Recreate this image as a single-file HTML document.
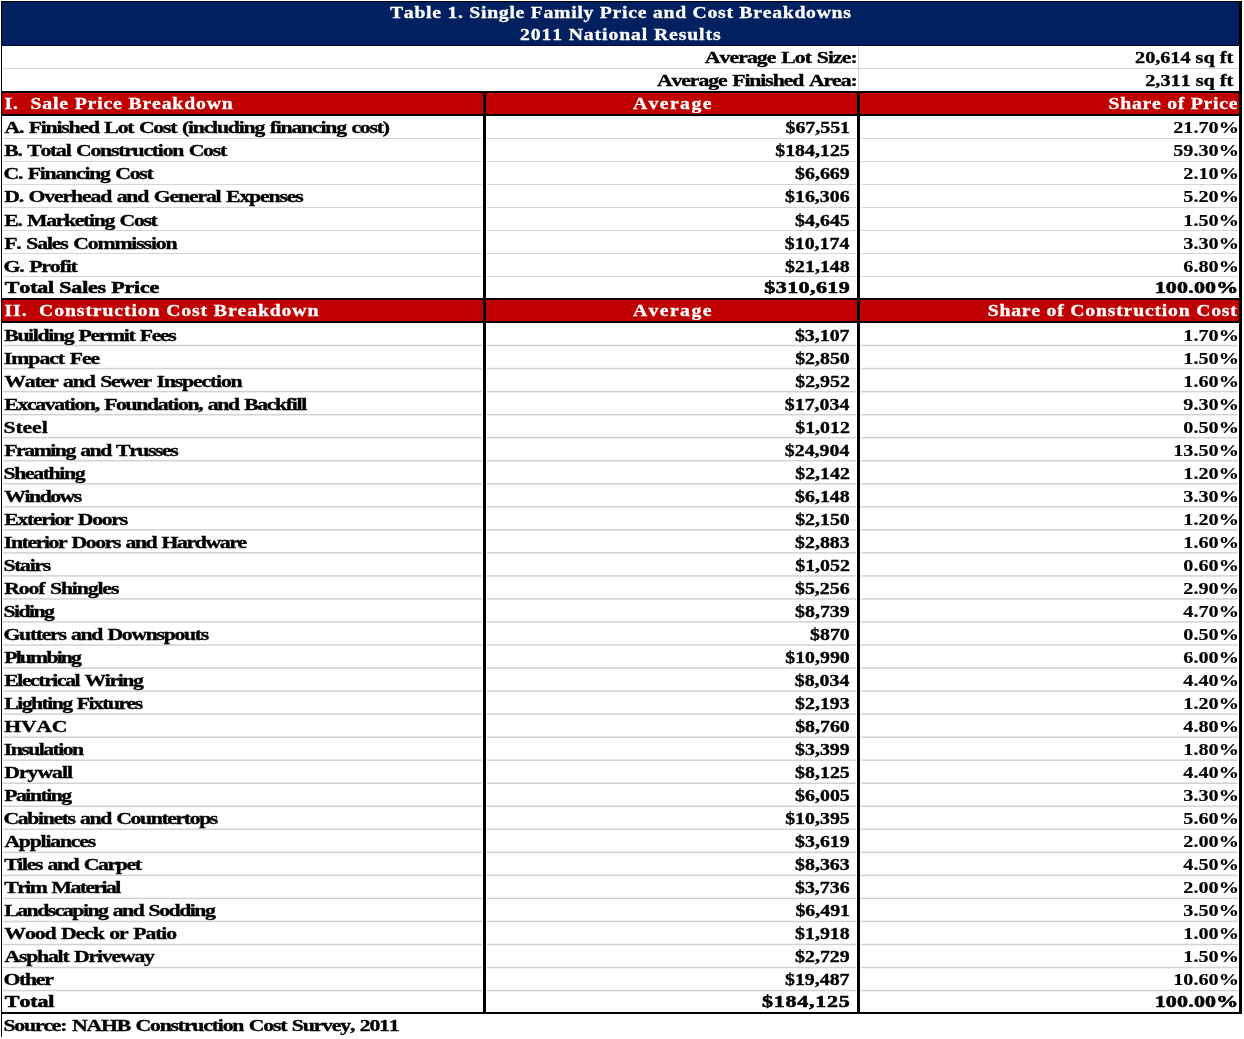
<!DOCTYPE html>
<html><head><meta charset="utf-8"><title>Table 1. Single Family Price and Cost Breakdowns</title>
<style>
html,body{margin:0;padding:0;background:#fff;}
body{width:1244px;height:1039px;overflow:hidden;}
svg{display:block;will-change:transform;}
text{white-space:pre;font-kerning:none;font-family:"Liberation Serif","Times New Roman",serif;font-weight:bold;font-size:16.7px;}
.b{fill:#000;stroke:#000;stroke-width:0.35px;}
.h{fill:#000;stroke:#000;stroke-width:0.55px;}
.p{fill:#000;stroke:#000;stroke-width:0.15px;}
.w{fill:#fff;stroke:#fff;stroke-width:0.3px;}
</style></head><body>
<svg width="1244" height="1039" viewBox="0 0 1244 1039">
<rect x="2" y="2" width="1237" height="43" fill="#002060"/>
<rect x="1" y="45" width="1240" height="1" fill="#000c3a"/>
<rect x="1" y="1" width="1241" height="1" fill="#000"/>
<rect x="2" y="68" width="1237" height="1" fill="#D4D4D9"/>
<rect x="858" y="46" width="1" height="45" fill="#D4D4D9"/>
<rect x="1" y="91" width="1241" height="2" fill="#000"/>
<rect x="2" y="93" width="1237" height="21" fill="#C00000"/>
<rect x="1" y="114" width="1241" height="2" fill="#000"/>
<rect x="1" y="298" width="1241" height="2" fill="#000"/>
<rect x="2" y="300" width="1237" height="21" fill="#C00000"/>
<rect x="1" y="321" width="1241" height="2" fill="#000"/>
<rect x="3" y="138" width="479" height="1" fill="#D4D4D9"/>
<rect x="487" y="138" width="369" height="1" fill="#D4D4D9"/>
<rect x="861" y="138" width="377" height="1" fill="#D4D4D9"/>
<rect x="3" y="161" width="479" height="1" fill="#D4D4D9"/>
<rect x="487" y="161" width="369" height="1" fill="#D4D4D9"/>
<rect x="861" y="161" width="377" height="1" fill="#D4D4D9"/>
<rect x="3" y="184" width="479" height="1" fill="#D4D4D9"/>
<rect x="487" y="184" width="369" height="1" fill="#D4D4D9"/>
<rect x="861" y="184" width="377" height="1" fill="#D4D4D9"/>
<rect x="3" y="207" width="479" height="1" fill="#D4D4D9"/>
<rect x="487" y="207" width="369" height="1" fill="#D4D4D9"/>
<rect x="861" y="207" width="377" height="1" fill="#D4D4D9"/>
<rect x="3" y="230" width="479" height="1" fill="#D4D4D9"/>
<rect x="487" y="230" width="369" height="1" fill="#D4D4D9"/>
<rect x="861" y="230" width="377" height="1" fill="#D4D4D9"/>
<rect x="3" y="253" width="479" height="1" fill="#D4D4D9"/>
<rect x="487" y="253" width="369" height="1" fill="#D4D4D9"/>
<rect x="861" y="253" width="377" height="1" fill="#D4D4D9"/>
<rect x="3" y="276" width="479" height="1" fill="#D4D4D9"/>
<rect x="487" y="276" width="369" height="1" fill="#D4D4D9"/>
<rect x="861" y="276" width="377" height="1" fill="#D4D4D9"/>
<rect x="3" y="344.8" width="479" height="1.5" fill="#D0D2D9"/>
<rect x="487" y="344.8" width="369" height="1.5" fill="#D0D2D9"/>
<rect x="861" y="344.8" width="377" height="1.5" fill="#D0D2D9"/>
<rect x="3" y="367.84" width="479" height="1.5" fill="#D0D2D9"/>
<rect x="487" y="367.84" width="369" height="1.5" fill="#D0D2D9"/>
<rect x="861" y="367.84" width="377" height="1.5" fill="#D0D2D9"/>
<rect x="3" y="390.87" width="479" height="1.5" fill="#D0D2D9"/>
<rect x="487" y="390.87" width="369" height="1.5" fill="#D0D2D9"/>
<rect x="861" y="390.87" width="377" height="1.5" fill="#D0D2D9"/>
<rect x="3" y="413.91" width="479" height="1.5" fill="#D0D2D9"/>
<rect x="487" y="413.91" width="369" height="1.5" fill="#D0D2D9"/>
<rect x="861" y="413.91" width="377" height="1.5" fill="#D0D2D9"/>
<rect x="3" y="436.94" width="479" height="1.5" fill="#D0D2D9"/>
<rect x="487" y="436.94" width="369" height="1.5" fill="#D0D2D9"/>
<rect x="861" y="436.94" width="377" height="1.5" fill="#D0D2D9"/>
<rect x="3" y="459.98" width="479" height="1.5" fill="#D0D2D9"/>
<rect x="487" y="459.98" width="369" height="1.5" fill="#D0D2D9"/>
<rect x="861" y="459.98" width="377" height="1.5" fill="#D0D2D9"/>
<rect x="3" y="483.02" width="479" height="1.5" fill="#D0D2D9"/>
<rect x="487" y="483.02" width="369" height="1.5" fill="#D0D2D9"/>
<rect x="861" y="483.02" width="377" height="1.5" fill="#D0D2D9"/>
<rect x="3" y="506.05" width="479" height="1.5" fill="#D0D2D9"/>
<rect x="487" y="506.05" width="369" height="1.5" fill="#D0D2D9"/>
<rect x="861" y="506.05" width="377" height="1.5" fill="#D0D2D9"/>
<rect x="3" y="529.09" width="479" height="1.5" fill="#D0D2D9"/>
<rect x="487" y="529.09" width="369" height="1.5" fill="#D0D2D9"/>
<rect x="861" y="529.09" width="377" height="1.5" fill="#D0D2D9"/>
<rect x="3" y="552.12" width="479" height="1.5" fill="#D0D2D9"/>
<rect x="487" y="552.12" width="369" height="1.5" fill="#D0D2D9"/>
<rect x="861" y="552.12" width="377" height="1.5" fill="#D0D2D9"/>
<rect x="3" y="575.16" width="479" height="1.5" fill="#D0D2D9"/>
<rect x="487" y="575.16" width="369" height="1.5" fill="#D0D2D9"/>
<rect x="861" y="575.16" width="377" height="1.5" fill="#D0D2D9"/>
<rect x="3" y="598.2" width="479" height="1.5" fill="#D0D2D9"/>
<rect x="487" y="598.2" width="369" height="1.5" fill="#D0D2D9"/>
<rect x="861" y="598.2" width="377" height="1.5" fill="#D0D2D9"/>
<rect x="3" y="621.23" width="479" height="1.5" fill="#D0D2D9"/>
<rect x="487" y="621.23" width="369" height="1.5" fill="#D0D2D9"/>
<rect x="861" y="621.23" width="377" height="1.5" fill="#D0D2D9"/>
<rect x="3" y="644.27" width="479" height="1.5" fill="#D0D2D9"/>
<rect x="487" y="644.27" width="369" height="1.5" fill="#D0D2D9"/>
<rect x="861" y="644.27" width="377" height="1.5" fill="#D0D2D9"/>
<rect x="3" y="667.3" width="479" height="1.5" fill="#D0D2D9"/>
<rect x="487" y="667.3" width="369" height="1.5" fill="#D0D2D9"/>
<rect x="861" y="667.3" width="377" height="1.5" fill="#D0D2D9"/>
<rect x="3" y="690.34" width="479" height="1.5" fill="#D0D2D9"/>
<rect x="487" y="690.34" width="369" height="1.5" fill="#D0D2D9"/>
<rect x="861" y="690.34" width="377" height="1.5" fill="#D0D2D9"/>
<rect x="3" y="713.38" width="479" height="1.5" fill="#D0D2D9"/>
<rect x="487" y="713.38" width="369" height="1.5" fill="#D0D2D9"/>
<rect x="861" y="713.38" width="377" height="1.5" fill="#D0D2D9"/>
<rect x="3" y="736.41" width="479" height="1.5" fill="#D0D2D9"/>
<rect x="487" y="736.41" width="369" height="1.5" fill="#D0D2D9"/>
<rect x="861" y="736.41" width="377" height="1.5" fill="#D0D2D9"/>
<rect x="3" y="759.45" width="479" height="1.5" fill="#D0D2D9"/>
<rect x="487" y="759.45" width="369" height="1.5" fill="#D0D2D9"/>
<rect x="861" y="759.45" width="377" height="1.5" fill="#D0D2D9"/>
<rect x="3" y="782.48" width="479" height="1.5" fill="#D0D2D9"/>
<rect x="487" y="782.48" width="369" height="1.5" fill="#D0D2D9"/>
<rect x="861" y="782.48" width="377" height="1.5" fill="#D0D2D9"/>
<rect x="3" y="805.52" width="479" height="1.5" fill="#D0D2D9"/>
<rect x="487" y="805.52" width="369" height="1.5" fill="#D0D2D9"/>
<rect x="861" y="805.52" width="377" height="1.5" fill="#D0D2D9"/>
<rect x="3" y="828.56" width="479" height="1.5" fill="#D0D2D9"/>
<rect x="487" y="828.56" width="369" height="1.5" fill="#D0D2D9"/>
<rect x="861" y="828.56" width="377" height="1.5" fill="#D0D2D9"/>
<rect x="3" y="851.59" width="479" height="1.5" fill="#D0D2D9"/>
<rect x="487" y="851.59" width="369" height="1.5" fill="#D0D2D9"/>
<rect x="861" y="851.59" width="377" height="1.5" fill="#D0D2D9"/>
<rect x="3" y="874.63" width="479" height="1.5" fill="#D0D2D9"/>
<rect x="487" y="874.63" width="369" height="1.5" fill="#D0D2D9"/>
<rect x="861" y="874.63" width="377" height="1.5" fill="#D0D2D9"/>
<rect x="3" y="897.66" width="479" height="1.5" fill="#D0D2D9"/>
<rect x="487" y="897.66" width="369" height="1.5" fill="#D0D2D9"/>
<rect x="861" y="897.66" width="377" height="1.5" fill="#D0D2D9"/>
<rect x="3" y="920.7" width="479" height="1.5" fill="#D0D2D9"/>
<rect x="487" y="920.7" width="369" height="1.5" fill="#D0D2D9"/>
<rect x="861" y="920.7" width="377" height="1.5" fill="#D0D2D9"/>
<rect x="3" y="943.74" width="479" height="1.5" fill="#D0D2D9"/>
<rect x="487" y="943.74" width="369" height="1.5" fill="#D0D2D9"/>
<rect x="861" y="943.74" width="377" height="1.5" fill="#D0D2D9"/>
<rect x="3" y="966.77" width="479" height="1.5" fill="#D0D2D9"/>
<rect x="487" y="966.77" width="369" height="1.5" fill="#D0D2D9"/>
<rect x="861" y="966.77" width="377" height="1.5" fill="#D0D2D9"/>
<rect x="3" y="989.81" width="479" height="1.5" fill="#D0D2D9"/>
<rect x="487" y="989.81" width="369" height="1.5" fill="#D0D2D9"/>
<rect x="861" y="989.81" width="377" height="1.5" fill="#D0D2D9"/>
<rect x="483" y="91" width="3" height="923" fill="#000"/>
<rect x="857" y="91" width="3" height="923" fill="#000"/>
<rect x="1" y="1012" width="1241" height="2" fill="#000"/>
<rect x="1" y="1" width="1" height="1036" fill="#000"/>
<rect x="1239" y="1" width="3" height="1013" fill="#000"/>
<text class="w" transform="translate(389.94 17.9) scale(1.18 1)" letter-spacing="0.62">Table 1. Single Family Price and Cost Breakdowns</text>
<text class="w" transform="translate(519.92 39.6) scale(1.18 1)" letter-spacing="0.76">2011 National Results</text>
<text class="b" transform="translate(704.79 63) scale(1.3 1)" letter-spacing="-0.71" word-spacing="1">Average Lot Size:</text>
<text class="b" transform="translate(656.89 85.9) scale(1.3 1)" letter-spacing="-0.82" word-spacing="1">Average Finished Area:</text>
<text class="b" transform="translate(1135.05 62.9) scale(1.21 1)">20,614 sq ft</text>
<text class="b" transform="translate(1145.25 85.5) scale(1.21 1)">2,311 sq ft</text>
<text class="w" transform="translate(4.54 108.8) scale(1.18 1)" letter-spacing="0.73">I.  Sale Price Breakdown</text>
<text class="w" transform="translate(632.91 108.8) scale(1.18 1)" letter-spacing="1.2">Average</text>
<text class="w" transform="translate(1108.55 108.8) scale(1.18 1)" letter-spacing="0.63">Share of Price</text>
<text class="w" transform="translate(4.54 315.7) scale(1.18 1)" letter-spacing="0.76">II.  Construction Cost Breakdown</text>
<text class="w" transform="translate(632.91 315.7) scale(1.18 1)" letter-spacing="1.2">Average</text>
<text class="w" transform="translate(987.65 315.7) scale(1.18 1)" letter-spacing="0.68">Share of Construction Cost</text>
<text class="b" transform="translate(4.39 133) scale(1.3 1)" letter-spacing="-0.91" word-spacing="1">A. Finished Lot Cost (including financing cost)</text>
<text class="b" transform="translate(785.49 133) scale(1.19 1)">$67,551</text>
<text class="p" transform="translate(1173.27 133) scale(1.21 1)">21.70%</text>
<text class="b" transform="translate(4.24 155.9) scale(1.3 1)" letter-spacing="-0.94" word-spacing="1">B. Total Construction Cost</text>
<text class="b" transform="translate(775.26 155.9) scale(1.19 1)">$184,125</text>
<text class="p" transform="translate(1173.27 155.9) scale(1.21 1)">59.30%</text>
<text class="b" transform="translate(3.54 179.2) scale(1.3 1)" letter-spacing="-0.93" word-spacing="1">C. Financing Cost</text>
<text class="b" transform="translate(795.11 179.2) scale(1.19 1)">$6,669</text>
<text class="p" transform="translate(1183.37 179.2) scale(1.21 1)">2.10%</text>
<text class="b" transform="translate(4.22 202.4) scale(1.3 1)" letter-spacing="-0.88" word-spacing="1">D. Overhead and General Expenses</text>
<text class="b" transform="translate(785.04 202.4) scale(1.19 1)">$16,306</text>
<text class="p" transform="translate(1183.37 202.4) scale(1.21 1)">5.20%</text>
<text class="b" transform="translate(4.23 225.6) scale(1.3 1)" letter-spacing="-1" word-spacing="1">E. Marketing Cost</text>
<text class="b" transform="translate(795.12 225.6) scale(1.19 1)">$4,645</text>
<text class="p" transform="translate(1183.37 225.6) scale(1.21 1)">1.50%</text>
<text class="b" transform="translate(4.23 248.7) scale(1.3 1)" letter-spacing="-0.87" word-spacing="1">F. Sales Commission</text>
<text class="b" transform="translate(784.83 248.7) scale(1.19 1)">$10,174</text>
<text class="p" transform="translate(1183.37 248.7) scale(1.21 1)">3.30%</text>
<text class="b" transform="translate(3.54 271.6) scale(1.3 1)" letter-spacing="-0.86" word-spacing="1">G. Profit</text>
<text class="b" transform="translate(785.12 271.6) scale(1.19 1)">$21,148</text>
<text class="p" transform="translate(1183.37 271.6) scale(1.21 1)">6.80%</text>
<text class="h" transform="translate(4.86 292.8) scale(1.32 1)" letter-spacing="-0.16">Total Sales Price</text>
<text class="h" transform="translate(764.31 292.8) scale(1.32 1)" letter-spacing="0.31">$310,619</text>
<text class="h" transform="translate(1154.63 292.8) scale(1.32 1)" letter-spacing="0.13">100.00%</text>
<text class="b" transform="translate(4.24 340.8) scale(1.3 1)" letter-spacing="-1.03" word-spacing="1">Building Permit Fees</text>
<text class="b" transform="translate(794.88 340.8) scale(1.19 1)">$3,107</text>
<text class="p" transform="translate(1183.37 340.8) scale(1.21 1)">1.70%</text>
<text class="b" transform="translate(3.87 363.79) scale(1.3 1)" letter-spacing="-0.79" word-spacing="1">Impact Fee</text>
<text class="b" transform="translate(795.15 363.79) scale(1.19 1)">$2,850</text>
<text class="p" transform="translate(1183.37 363.79) scale(1.21 1)">1.50%</text>
<text class="b" transform="translate(4.29 386.78) scale(1.3 1)" letter-spacing="-0.89" word-spacing="1">Water and Sewer Inspection</text>
<text class="b" transform="translate(795.24 386.78) scale(1.19 1)">$2,952</text>
<text class="p" transform="translate(1183.37 386.78) scale(1.21 1)">1.60%</text>
<text class="b" transform="translate(4.23 409.77) scale(1.3 1)" letter-spacing="-1.02" word-spacing="1">Excavation, Foundation, and Backfill</text>
<text class="b" transform="translate(784.83 409.77) scale(1.19 1)">$17,034</text>
<text class="p" transform="translate(1183.37 409.77) scale(1.21 1)">9.30%</text>
<text class="b" transform="translate(3.44 432.76) scale(1.3 1)" letter-spacing="-0.07">Steel</text>
<text class="b" transform="translate(795.24 432.76) scale(1.19 1)">$1,012</text>
<text class="p" transform="translate(1183.37 432.76) scale(1.21 1)">0.50%</text>
<text class="b" transform="translate(4.23 455.75) scale(1.3 1)" letter-spacing="-1.11" word-spacing="1">Framing and Trusses</text>
<text class="b" transform="translate(784.83 455.75) scale(1.19 1)">$24,904</text>
<text class="p" transform="translate(1173.27 455.75) scale(1.21 1)">13.50%</text>
<text class="b" transform="translate(3.44 478.74) scale(1.3 1)" letter-spacing="-1.03">Sheathing</text>
<text class="b" transform="translate(795.24 478.74) scale(1.19 1)">$2,142</text>
<text class="p" transform="translate(1183.37 478.74) scale(1.21 1)">1.20%</text>
<text class="b" transform="translate(4.29 501.73) scale(1.3 1)" letter-spacing="-1.14">Windows</text>
<text class="b" transform="translate(795.05 501.73) scale(1.19 1)">$6,148</text>
<text class="p" transform="translate(1183.37 501.73) scale(1.21 1)">3.30%</text>
<text class="b" transform="translate(4.23 524.72) scale(1.3 1)" letter-spacing="-0.98" word-spacing="1">Exterior Doors</text>
<text class="b" transform="translate(795.15 524.72) scale(1.19 1)">$2,150</text>
<text class="p" transform="translate(1183.37 524.72) scale(1.21 1)">1.20%</text>
<text class="b" transform="translate(3.87 547.71) scale(1.3 1)" letter-spacing="-1.07" word-spacing="1">Interior Doors and Hardware</text>
<text class="b" transform="translate(795.07 547.71) scale(1.19 1)">$2,883</text>
<text class="p" transform="translate(1183.37 547.71) scale(1.21 1)">1.60%</text>
<text class="b" transform="translate(3.44 570.7) scale(1.3 1)" letter-spacing="-1.01">Stairs</text>
<text class="b" transform="translate(795.24 570.7) scale(1.19 1)">$1,052</text>
<text class="p" transform="translate(1183.37 570.7) scale(1.21 1)">0.60%</text>
<text class="b" transform="translate(4.23 593.69) scale(1.3 1)" letter-spacing="-0.86" word-spacing="1">Roof Shingles</text>
<text class="b" transform="translate(794.97 593.69) scale(1.19 1)">$5,256</text>
<text class="p" transform="translate(1183.37 593.69) scale(1.21 1)">2.90%</text>
<text class="b" transform="translate(3.44 616.68) scale(1.3 1)" letter-spacing="-1.17">Siding</text>
<text class="b" transform="translate(795.11 616.68) scale(1.19 1)">$8,739</text>
<text class="p" transform="translate(1183.37 616.68) scale(1.21 1)">4.70%</text>
<text class="b" transform="translate(3.54 639.67) scale(1.3 1)" letter-spacing="-1" word-spacing="1">Gutters and Downspouts</text>
<text class="b" transform="translate(810.04 639.67) scale(1.19 1)">$870</text>
<text class="p" transform="translate(1183.37 639.67) scale(1.21 1)">0.50%</text>
<text class="b" transform="translate(4.23 662.66) scale(1.3 1)" letter-spacing="-1.4">Plumbing</text>
<text class="b" transform="translate(785.22 662.66) scale(1.19 1)">$10,990</text>
<text class="p" transform="translate(1183.37 662.66) scale(1.21 1)">6.00%</text>
<text class="b" transform="translate(4.23 685.65) scale(1.3 1)" letter-spacing="-1.09" word-spacing="1">Electrical Wiring</text>
<text class="b" transform="translate(794.76 685.65) scale(1.19 1)">$8,034</text>
<text class="p" transform="translate(1183.37 685.65) scale(1.21 1)">4.40%</text>
<text class="b" transform="translate(4.23 708.64) scale(1.3 1)" letter-spacing="-1.18" word-spacing="1">Lighting Fixtures</text>
<text class="b" transform="translate(795.07 708.64) scale(1.19 1)">$2,193</text>
<text class="p" transform="translate(1183.37 708.64) scale(1.21 1)">1.20%</text>
<text class="b" transform="translate(4.23 731.63) scale(1.3 1)" letter-spacing="-0.17">HVAC</text>
<text class="b" transform="translate(795.15 731.63) scale(1.19 1)">$8,760</text>
<text class="p" transform="translate(1183.37 731.63) scale(1.21 1)">4.80%</text>
<text class="b" transform="translate(3.87 754.62) scale(1.3 1)" letter-spacing="-1.19">Insulation</text>
<text class="b" transform="translate(795.11 754.62) scale(1.19 1)">$3,399</text>
<text class="p" transform="translate(1183.37 754.62) scale(1.21 1)">1.80%</text>
<text class="b" transform="translate(4.22 777.61) scale(1.3 1)" letter-spacing="-0.76">Drywall</text>
<text class="b" transform="translate(795.12 777.61) scale(1.19 1)">$8,125</text>
<text class="p" transform="translate(1183.37 777.61) scale(1.21 1)">4.40%</text>
<text class="b" transform="translate(4.23 800.6) scale(1.3 1)" letter-spacing="-1.15">Painting</text>
<text class="b" transform="translate(795.12 800.6) scale(1.19 1)">$6,005</text>
<text class="p" transform="translate(1183.37 800.6) scale(1.21 1)">3.30%</text>
<text class="b" transform="translate(3.54 823.59) scale(1.3 1)" letter-spacing="-1.05" word-spacing="1">Cabinets and Countertops</text>
<text class="b" transform="translate(785.19 823.59) scale(1.19 1)">$10,395</text>
<text class="p" transform="translate(1183.37 823.59) scale(1.21 1)">5.60%</text>
<text class="b" transform="translate(4.39 846.58) scale(1.3 1)" letter-spacing="-0.92">Appliances</text>
<text class="b" transform="translate(795.11 846.58) scale(1.19 1)">$3,619</text>
<text class="p" transform="translate(1183.37 846.58) scale(1.21 1)">2.00%</text>
<text class="b" transform="translate(4.26 869.57) scale(1.3 1)" letter-spacing="-1.05" word-spacing="1">Tiles and Carpet</text>
<text class="b" transform="translate(795.07 869.57) scale(1.19 1)">$8,363</text>
<text class="p" transform="translate(1183.37 869.57) scale(1.21 1)">4.50%</text>
<text class="b" transform="translate(4.26 892.56) scale(1.3 1)" letter-spacing="-1.19" word-spacing="1">Trim Material</text>
<text class="b" transform="translate(794.97 892.56) scale(1.19 1)">$3,736</text>
<text class="p" transform="translate(1183.37 892.56) scale(1.21 1)">2.00%</text>
<text class="b" transform="translate(4.23 915.55) scale(1.3 1)" letter-spacing="-1.13" word-spacing="1">Landscaping and Sodding</text>
<text class="b" transform="translate(795.42 915.55) scale(1.19 1)">$6,491</text>
<text class="p" transform="translate(1183.37 915.55) scale(1.21 1)">3.50%</text>
<text class="b" transform="translate(4.29 938.54) scale(1.3 1)" letter-spacing="-0.84" word-spacing="1">Wood Deck or Patio</text>
<text class="b" transform="translate(795.05 938.54) scale(1.19 1)">$1,918</text>
<text class="p" transform="translate(1183.37 938.54) scale(1.21 1)">1.00%</text>
<text class="b" transform="translate(4.39 961.53) scale(1.3 1)" letter-spacing="-0.91" word-spacing="1">Asphalt Driveway</text>
<text class="b" transform="translate(795.11 961.53) scale(1.19 1)">$2,729</text>
<text class="p" transform="translate(1183.37 961.53) scale(1.21 1)">1.50%</text>
<text class="b" transform="translate(3.54 984.52) scale(1.3 1)" letter-spacing="-1">Other</text>
<text class="b" transform="translate(784.95 984.52) scale(1.19 1)">$19,487</text>
<text class="p" transform="translate(1173.27 984.52) scale(1.21 1)">10.60%</text>
<text class="h" transform="translate(4.86 1006.6) scale(1.32 1)" letter-spacing="-0.12">Total</text>
<text class="h" transform="translate(761.91 1006.6) scale(1.32 1)" letter-spacing="0.57">$184,125</text>
<text class="h" transform="translate(1154.63 1006.6) scale(1.32 1)" letter-spacing="0.13">100.00%</text>
<text class="b" transform="translate(3.44 1030.9) scale(1.3 1)" letter-spacing="-0.9" word-spacing="1">Source: NAHB Construction Cost Survey, 2011</text>
</svg>
</body></html>
